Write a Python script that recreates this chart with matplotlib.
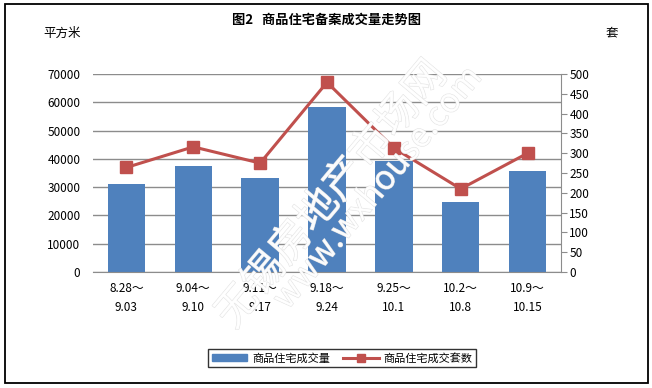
import matplotlib
matplotlib.use("Agg")
import matplotlib.pyplot as plt
import matplotlib.patheffects as pe
from matplotlib.patches import Rectangle, Patch
from matplotlib.lines import Line2D
import numpy as np

plt.rcParams["font.family"] = ["Noto Sans CJK SC", "DejaVu Sans"]

# ── Datos ────────────────────────────────────────────────────────────────────
weeks = ["8.28～\n9.03", "9.04～\n9.10", "9.11～\n9.17", "9.18～\n9.24",
         "9.25～\n10.1", "10.2～\n10.8", "10.9～\n10.15"]
area = [31200, 37600, 33300, 58400, 39300, 24900, 35800]     # 平方米
units = [264, 316, 275, 479, 313, 210, 300]                  # 套

BAR_COLOR = "#4F81BD"
LINE_COLOR = "#C0504D"
GRID_COLOR = "#8C8C8C"

fig = plt.figure(figsize=(6.52, 3.88), dpi=100)
fig.patches.append(Rectangle((5 / 652, 1 - 383 / 388), 643 / 652, 379 / 388,
                             transform=fig.transFigure, fill=False,
                             edgecolor="black", linewidth=1.3))

ax = fig.add_axes([93 / 652, 1 - 272 / 388, 468 / 652, 198 / 388])
ax2 = ax.twinx()

x = np.arange(len(weeks))
ax.bar(x, area, width=0.56, color=BAR_COLOR, zorder=2)
ax.set_ylim(0, 70000)
ax.set_yticks(range(0, 70001, 10000))
ax.set_xlim(-0.5, len(weeks) - 0.5)
ax.set_xticks(x)
ax.set_xticklabels(weeks, fontsize=8.5, linespacing=1.6)
ax.tick_params(axis="x", length=0, pad=7)
ax.tick_params(axis="y", length=0, labelsize=8.5, pad=9)
ax.grid(True, axis="y", color=GRID_COLOR, linewidth=1, zorder=0)
ax.set_axisbelow(True)
for s in ("top", "left", "right"):
    ax.spines[s].set_visible(False)
ax.spines["bottom"].set_color(GRID_COLOR)

ax2.plot(x, units, "-s", color=LINE_COLOR, linewidth=2.2, markersize=8, zorder=3)
ax2.set_ylim(0, 500)
ax2.set_yticks(range(0, 501, 50))
ax2.tick_params(axis="y", length=4, color=GRID_COLOR, labelsize=8.5, pad=2)
for s in ("top", "left", "bottom"):
    ax2.spines[s].set_visible(False)
ax2.spines["right"].set_color(GRID_COLOR)

# Titulos y unidades
fig.text(327 / 652, 1 - 20 / 388, "图2   商品住宅备案成交量走势图", ha="center",
         va="center", fontsize=9.5, fontweight="bold")
fig.text(62 / 652, 1 - 33 / 388, "平方米", ha="center", va="center", fontsize=9)
fig.text(612 / 652, 1 - 33 / 388, "套", ha="center", va="center", fontsize=9)

# Marca de agua (texto hueco, muy tenue)
wm = [pe.withStroke(linewidth=0.7, foreground="#DCDCDC")]
fig.text(332 / 652, 1 - 195 / 388, "无锡房地产市场网", rotation=50, ha="center",
         va="center", fontsize=30, fontweight="light", color="white",
         alpha=0.85, path_effects=wm)
fig.text(378 / 652, 1 - 188 / 388, "www.wxhouse.com", rotation=50, ha="center",
         va="center", fontsize=24, fontweight="light", color="white",
         alpha=0.85, path_effects=wm)

# Leyenda
handles = [Patch(color=BAR_COLOR),
           Line2D([], [], color=LINE_COLOR, marker="s", linewidth=2.2, markersize=6)]
leg = fig.legend(handles, ["商品住宅成交量", "商品住宅成交套数"], loc="center",
                 bbox_to_anchor=(342 / 652, 1 - 358 / 388), ncol=2, fontsize=8,
                 frameon=True, fancybox=False, edgecolor="black",
                 handlelength=3.2, handleheight=0.5, columnspacing=1.2,
                 borderpad=0.35, handletextpad=0.4)
leg.get_frame().set_linewidth(1.0)

fig.savefig("out.png", dpi=100)
